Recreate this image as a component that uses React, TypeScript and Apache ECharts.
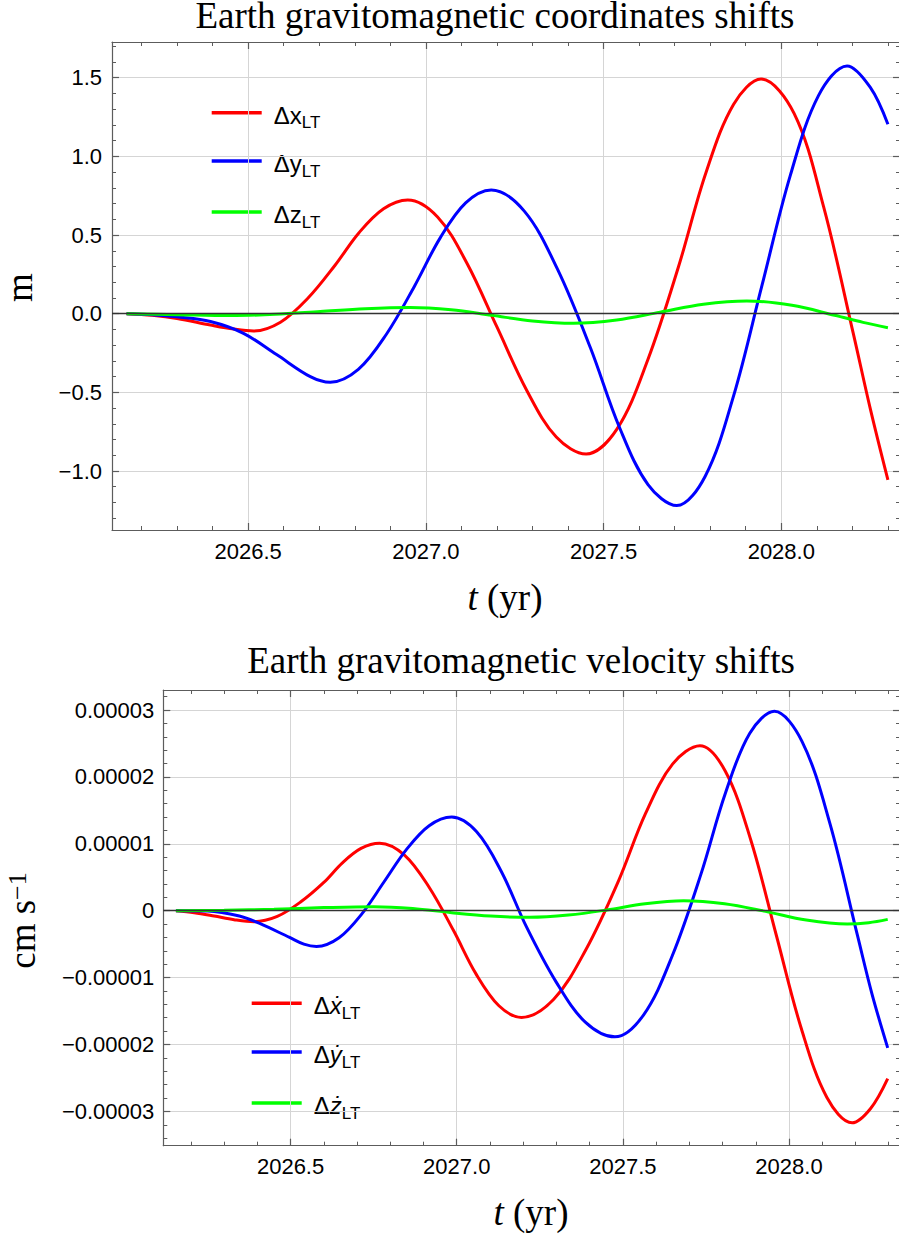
import { useEffect, useRef } from "react";
import * as echarts from "echarts";

// ---- Earth gravitomagnetic coordinate shifts (m): knots ----
const tDx = [2026.158, 2026.23, 2026.3, 2026.394, 2026.46, 2026.515, 2026.591, 2026.668, 2026.744, 2026.812, 2026.881, 2026.949,
  2027.033, 2027.116, 2027.2, 2027.284, 2027.367, 2027.451, 2027.538, 2027.624, 2027.711, 2027.788, 2027.866, 2027.943,
  2028.036, 2028.119, 2028.203, 2028.25, 2028.3];
const dxLT = [0, -0.01, -0.03, -0.072, -0.098, -0.11, -0.054, 0.098, 0.3065, 0.515, 0.667, 0.723,
  0.615, 0.319, -0.0845, -0.488, -0.784, -0.892, -0.732, -0.296, 0.3, 0.896, 1.332, 1.492,
  1.273, 0.68, -0.13, -0.6, -1.057];

const tDy = [2026.158, 2026.23, 2026.3, 2026.394, 2026.487, 2026.58, 2026.675, 2026.731, 2026.81, 2026.889, 2026.968, 2027.04, 2027.112, 2027.184,
  2027.277, 2027.37, 2027.463, 2027.544, 2027.625, 2027.706, 2027.786, 2027.866, 2027.9455, 2028.025, 2028.105, 2028.185, 2028.25, 2028.3];
const dyLT = [0, -0.006, -0.02, -0.05, -0.125, -0.26, -0.4, -0.436, -0.354, -0.1305, 0.175, 0.4805, 0.704, 0.786,
  0.652, 0.2845, -0.217, -0.7185, -1.086, -1.22, -1.033, -0.521, 0.178, 0.876, 1.388, 1.575, 1.44, 1.204];

const tDz = [2026.158, 2026.3, 2026.45, 2026.5765, 2026.703, 2026.8295, 2026.956, 2027.071, 2027.1855, 2027.3, 2027.415, 2027.537, 2027.659, 2027.781,
  2027.903, 2028.03, 2028.15, 2028.23, 2028.3];
const dzLT = [0, -0.006, -0.012, -0.004, 0.014, 0.032, 0.04, 0.025, -0.0105, -0.046, -0.061, -0.04, 0.01, 0.06,
  0.081, 0.053, -0.01, -0.055, -0.089];

// ---- Earth gravitomagnetic velocity shifts, in units of 1e-5 cm/s ----
const VEL_UNIT = 1e-5;
const tDvx = [2026.155, 2026.21, 2026.27, 2026.33, 2026.39, 2026.46, 2026.53, 2026.6, 2026.656, 2026.712, 2026.768,
  2026.842, 2026.916, 2026.99, 2027.058, 2027.127, 2027.195, 2027.292, 2027.389, 2027.486, 2027.568, 2027.65, 2027.732,
  2027.808, 2027.885, 2027.961, 2028.037, 2028.114, 2028.19, 2028.245, 2028.297];
const dvxLT = [0, -0.03, -0.08, -0.135, -0.165, -0.086, 0.129, 0.4225, 0.716, 0.931, 1.01,
  0.835, 0.3585, -0.293, -0.9445, -1.421, -1.596, -1.324, -0.58, 0.435, 1.45, 2.194, 2.466,
  2.088, 1.057, -0.352, -1.761, -2.792, -3.17, -2.96, -2.51];

const tDvy = [2026.155, 2026.25, 2026.346, 2026.407, 2026.497, 2026.54, 2026.578, 2026.646, 2026.714, 2026.7815, 2026.849, 2026.917, 2026.985,
  2027.06, 2027.135, 2027.21, 2027.299, 2027.387, 2027.476, 2027.562, 2027.649, 2027.735, 2027.809, 2027.882, 2027.956,
  2028.039, 2028.123, 2028.206, 2028.25, 2028.297];
const dvyLT = [0, -0.005, -0.08, -0.19, -0.4, -0.5, -0.535, -0.405, -0.051, 0.4325, 0.916, 1.27, 1.4,
  1.18, 0.5785, -0.243, -1.0645, -1.666, -1.886, -1.56, -0.6695, 0.547, 1.7635, 2.654, 2.98,
  2.531, 1.305, -0.37, -1.25, -2.05];

const tDvz = [2026.155, 2026.3, 2026.45, 2026.6, 2026.75, 2026.8675, 2026.985, 2027.1025, 2027.22, 2027.336, 2027.4515, 2027.567, 2027.683, 2027.806,
  2027.929, 2028.052, 2028.175, 2028.24, 2028.297];
const dvzLT = [0, 0.006, 0.022, 0.046, 0.06, 0.033, -0.03, -0.08, -0.099, -0.065, 0.01, 0.105, 0.15, 0.105,
  -0.01, -0.14, -0.2, -0.18, -0.13];

// ---- axes ----
const X_MIN = 2026.117;
const X_MAX = 2028.334;
const X_MAJOR = [2026.5, 2027.0, 2027.5, 2028.0];
const Y1_MIN = -1.375;
const Y1_MAX = 1.727;
const Y1_MAJOR = [-1.0, -0.5, 0.0, 0.5, 1.0, 1.5];
const Y2_MIN = -3.513e-5;
const Y2_MAX = 3.299e-5;
const Y2_MAJOR = [-3e-5, -2e-5, -1e-5, 0, 1e-5, 2e-5, 3e-5];

const minorTicks = (lo: number, hi: number, step: number, major: number[]) => {
  const out: number[] = [];
  const n0 = Math.ceil(lo / step - 1e-9);
  const n1 = Math.floor(hi / step + 1e-9);
  for (let k = n0; k <= n1; k++) {
    const v = +(k * step).toPrecision(12);
    if (!major.some((m) => Math.abs(m - v) < step * 1e-3)) out.push(v);
  }
  return out;
};

const X_MINOR = minorTicks(X_MIN, X_MAX, 0.1, X_MAJOR);
const Y1_MINOR = minorTicks(Y1_MIN, Y1_MAX, 0.1, Y1_MAJOR);
const Y2_MINOR = minorTicks(Y2_MIN, Y2_MAX, 2e-6, Y2_MAJOR);

const FRAME = "#5c5c5c";
const GRIDC = "#d5d5d5";
const SANS = "Liberation Sans, Arial, sans-serif";
const SERIF = "Liberation Serif, Times New Roman, serif";
const RED = "#ff0000";
const BLUE = "#0000ff";
const GREEN = "#00ff00";

const fmtX = (v: number) => v.toFixed(1);
const fmtY1 = (v: number) => (v < -1e-9 ? "\u2212" : "") + Math.abs(v).toFixed(1);
const fmtY2 = (v: number) => (Math.abs(v) < 1e-12 ? "0" : (v < 0 ? "\u2212" : "") + Math.abs(v).toFixed(5));

function axisPair(gridIndex: number, position: string, min: number, max: number, major: number[], minor: number[],
  withLabels: boolean, fmt: any, margin: number) {
  const maj: any = {
    type: "value", gridIndex, position, min, max,
    axisLine: { show: true, onZero: false, lineStyle: { color: FRAME, width: 1.2 } },
    axisTick: { show: true, inside: true, length: 7, customValues: major, lineStyle: { color: FRAME, width: 1.2 } },
    axisLabel: withLabels
      ? { show: true, customValues: major, formatter: fmt, color: "#000", fontSize: 22, fontFamily: SANS, margin }
      : { show: false },
    splitLine: { show: withLabels, lineStyle: { color: GRIDC, width: 1 } },
    minorTick: { show: false },
    minorSplitLine: { show: false },
  };
  const mnr: any = {
    type: "value", gridIndex, position, min, max,
    axisLine: { show: false, onZero: false },
    axisTick: { show: true, inside: true, length: 4, customValues: minor, lineStyle: { color: FRAME, width: 1 } },
    axisLabel: { show: false },
    splitLine: { show: false },
  };
  return [maj, mnr];
}

const line = (name: string, xi: number, ts: number[], vals: number[], color: string, scale = 1, extra: any = {}) => ({
  type: "line", name, xAxisIndex: xi, yAxisIndex: xi,
  data: ts.map((t, i) => [t, vals[i] * scale]),
  showSymbol: false, symbol: "none", smooth: 0.35, clip: true, z: 3,
  lineStyle: { color, width: 3 },
  ...extra,
});

const zeroLine = {
  silent: true, symbol: ["none", "none"], label: { show: false },
  lineStyle: { color: "#333", width: 1.3, type: "solid" },
  data: [{ yAxis: 0 }],
};

function legendItem(x0: number, y: number, color: string, letter: string, italic: boolean) {
  return [
    { type: "line", shape: { x1: x0, y1: y, x2: x0 + 50, y2: y }, style: { stroke: color, lineWidth: 3.5 } },
    {
      type: "text", x: x0 + 62, y: y + 2.5,
      style: {
        text: `{d|\u0394}{l|${letter}}{s|LT}`,
        align: "left", verticalAlign: "middle",
        rich: {
          d: { fontSize: 24, lineHeight: 24, fontFamily: SANS, fill: "#000", verticalAlign: "top" },
          l: { fontSize: 24, lineHeight: 24, fontFamily: SANS, fill: "#000", verticalAlign: "top", fontStyle: italic ? "italic" : "normal" },
          s: { fontSize: 17, lineHeight: 17, fontFamily: SANS, fill: "#000", verticalAlign: "top", padding: [11, 0, 0, 0] },
        },
      },
    },
  ];
}

const axisName = (x: number, y: number) => ({
  type: "text", x, y,
  style: { text: "{i|t}{n| (yr)}", align: "center", verticalAlign: "middle",
    rich: { i: { fontSize: 37, fontFamily: SERIF, fontStyle: "italic", fill: "#000" }, n: { fontSize: 37, fontFamily: SERIF, fill: "#000" } } },
});

const option: any = {
  animation: false,
  backgroundColor: "#fff",
  grid: [
    { left: 112, top: 42, width: 788, height: 488, containLabel: false, outerBoundsMode: "none" },
    { left: 163.3, top: 690, width: 736.7, height: 455.7, containLabel: false, outerBoundsMode: "none" },
  ],
  xAxis: [
    ...axisPair(0, "bottom", X_MIN, X_MAX, X_MAJOR, X_MINOR, true, fmtX, 10),
    ...axisPair(0, "top", X_MIN, X_MAX, X_MAJOR, X_MINOR, false, fmtX, 8),
    ...axisPair(1, "bottom", X_MIN, X_MAX, X_MAJOR, X_MINOR, true, fmtX, 10),
    ...axisPair(1, "top", X_MIN, X_MAX, X_MAJOR, X_MINOR, false, fmtX, 8),
  ],
  yAxis: [
    ...axisPair(0, "left", Y1_MIN, Y1_MAX, Y1_MAJOR, Y1_MINOR, true, fmtY1, 10),
    ...axisPair(0, "right", Y1_MIN, Y1_MAX, Y1_MAJOR, Y1_MINOR, false, fmtY1, 8),
    ...axisPair(1, "left", Y2_MIN, Y2_MAX, Y2_MAJOR, Y2_MINOR, true, fmtY2, 9),
    ...axisPair(1, "right", Y2_MIN, Y2_MAX, Y2_MAJOR, Y2_MINOR, false, fmtY2, 8),
  ],
  series: [
    line("\u0394x_LT", 0, tDx, dxLT, RED),
    line("\u0394y_LT", 0, tDy, dyLT, BLUE),
    line("\u0394z_LT", 0, tDz, dzLT, GREEN, 1, { markLine: zeroLine }),
    line("\u0394\u1E8B_LT", 4, tDvx, dvxLT, RED, VEL_UNIT),
    line("\u0394\u1E8F_LT", 4, tDvy, dvyLT, BLUE, VEL_UNIT),
    line("\u0394\u017C_LT", 4, tDvz, dvzLT, GREEN, VEL_UNIT, { markLine: zeroLine }),
  ],
  graphic: [
    { type: "text", x: 495, y: 15, style: { text: "Earth gravitomagnetic coordinates shifts", font: `37px ${SERIF}`, lineHeight: 28, fill: "#000", align: "center", verticalAlign: "middle" } },
    { type: "text", x: 521, y: 660.5, style: { text: "Earth gravitomagnetic velocity shifts", font: `37px ${SERIF}`, lineHeight: 28, fill: "#000", align: "center", verticalAlign: "middle" } },
    axisName(505, 597.5),
    axisName(531, 1212.5),
    { type: "text", x: 19.2, y: 287.5, rotation: Math.PI / 2, style: { text: "m", font: `37px ${SERIF}`, fill: "#000", align: "center", verticalAlign: "middle" } },
    {
      type: "text", x: 22.5, y: 920.5, rotation: Math.PI / 2,
      style: { text: "{n|cm s}{p|\u22121}", align: "center", verticalAlign: "middle",
        rich: {
          n: { fontSize: 37, lineHeight: 37, fontFamily: SERIF, fill: "#000", verticalAlign: "bottom" },
          p: { fontSize: 26, lineHeight: 26, fontFamily: SERIF, fill: "#000", verticalAlign: "top", padding: [0, 0, 17.5, 0] },
        } },
    },
    ...legendItem(211.7, 112.7, RED, "x", false),
    ...legendItem(211.7, 161, BLUE, "y", false),
    ...legendItem(211.7, 212, GREEN, "z", false),
    ...legendItem(251.7, 1003.3, RED, "\u1E8B", true),
    ...legendItem(251.7, 1052, BLUE, "\u1E8F", true),
    ...legendItem(251.7, 1103, GREEN, "\u017C", true),
  ],
};

export default function App() {
  const ref = useRef<HTMLDivElement>(null);
  useEffect(() => {
    const chart = echarts.init(ref.current!, null, { renderer: "svg", width: 899, height: 1238 });
    chart.setOption(option);
    return () => chart.dispose();
  }, []);
  return <div ref={ref} style={{ position: "absolute", left: 0, top: 0, width: 899, height: 1238, background: "#fff" }} />;
}
